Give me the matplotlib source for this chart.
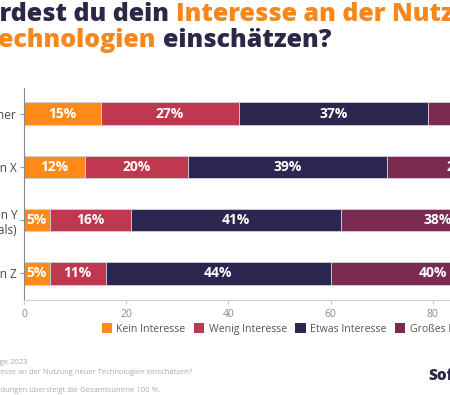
import matplotlib
matplotlib.use("Agg")
import matplotlib.pyplot as plt
import matplotlib.transforms as mtransforms
from matplotlib.font_manager import FontProperties
from matplotlib.patches import Patch
import numpy as np

# Daten
generationen = ["Babyboomer", "Generation X", "Generation Y\n(Millennials)", "Generation Z"]
kategorien = ["Kein Interesse", "Wenig Interesse", "Etwas Interesse", "Großes Interesse"]
kein = [15, 12, 5, 5]
wenig = [27, 20, 16, 11]
etwas = [37, 39, 41, 44]
gross = [21, 29, 38, 40]
x_ticks = [0, 20, 40, 60, 80, 100]

farben = ["#ff8a1a", "#c0384f", "#2b2750", "#7b2b51"]
dunkel = "#2a2747"
orange = "#f7861b"

plt.rcParams["font.family"] = ["Open Sans", "DejaVu Sans"]

fig = plt.figure(figsize=(4.5, 3.95), dpi=100)
ax = fig.add_axes([24 / 450, 95 / 395, 511 / 450, 212 / 395])

y = np.arange(len(generationen))
links = np.zeros(len(generationen))
for werte, farbe in zip([kein, wenig, etwas, gross], farben):
    werte = np.array(werte)
    ax.barh(y, werte, left=links, height=0.42, color=farbe,
            edgecolor="#d0d0d8", linewidth=0.6)
    for yi, l, w in zip(y, links, werte):
        ax.text(l + w / 2, yi, f"{w}%", ha="center", va="center",
                color="white", fontsize=10, fontweight="bold")
    links = links + werte

ax.set_ylim(3.5, -0.48)
ax.set_xlim(0, 100)
ax.set_yticks(y)
ax.set_yticklabels(generationen, fontsize=8.5, color="#444444")
ax.set_xticks(x_ticks)
ax.tick_params(axis="x", labelsize=7.5, colors="#888888", length=3, color="#cccccc")
ax.tick_params(axis="y", length=3, color="#999999", pad=2)
for s in ["top", "right"]:
    ax.spines[s].set_visible(False)
ax.spines["left"].set_color("#888888")
ax.spines["left"].set_linewidth(0.8)
ax.spines["bottom"].set_color("#cccccc")

# Legende
handles = [Patch(facecolor=f, edgecolor="none") for f in farben]
fig.legend(handles, kategorien, loc="center left", bbox_to_anchor=(92 / 450, 1 - 329 / 395),
           ncol=4, frameon=False, fontsize=7.6, handlelength=1.0, handleheight=1.0,
           handletextpad=0.4, columnspacing=0.8, labelcolor="#555555")

# Titel (zentriert, links abgeschnitten)
renderer = fig.canvas.get_renderer()
pix = mtransforms.IdentityTransform()
titel_font = FontProperties(family=["Open Sans", "DejaVu Sans"], weight="heavy", size=18)


def adv(s, prop):
    w1 = renderer.get_text_width_height_descent(s + "x", prop, ismath=False)[0]
    w2 = renderer.get_text_width_height_descent("x", prop, ismath=False)[0]
    return w1 - w2


x0 = -adv("Wie wü", titel_font)
fig.text(x0, 395 - 21, "Wie würdest du dein ", color=dunkel, fontproperties=titel_font,
         transform=pix, va="baseline")
fig.text(x0 + adv("Wie würdest du dein ", titel_font), 395 - 21,
         "Interesse an der Nutzung neuer", color=orange, fontproperties=titel_font,
         transform=pix, va="baseline")
x0 = -adv("T", titel_font)
fig.text(x0, 395 - 47, "Technologien", color=orange, fontproperties=titel_font,
         transform=pix, va="baseline")
fig.text(x0 + adv("Technologien ", titel_font), 395 - 47, "einschätzen?", color=dunkel,
         fontproperties=titel_font, transform=pix, va="baseline")

# Fußzeile
fuss_font = FontProperties(family=["Open Sans", "DejaVu Sans"], size=5.5)
fuss = [
    ("Quelle: Umfrage 2023", "Quelle: Umfra", 362),
    ("Frage: Wie würdest du dein Interesse an der Nutzung neuer Technologien einschätzen?",
     "Frage: Wie würdest du dein Inter", 373),
    ("Durch Rundungen übersteigt die Gesamtsumme 100 %.", "Durch Run", 391),
]
for text, praefix, yp in fuss:
    fig.text(-adv(praefix, fuss_font), 395 - yp, text, color="#aaaaaa",
             fontproperties=fuss_font, transform=pix, va="center")

fig.text(428, 395 - 376, "Softonic", color=dunkel, fontsize=11, fontweight="heavy",
         transform=pix, va="center")

fig.savefig("out.png", dpi=100)
